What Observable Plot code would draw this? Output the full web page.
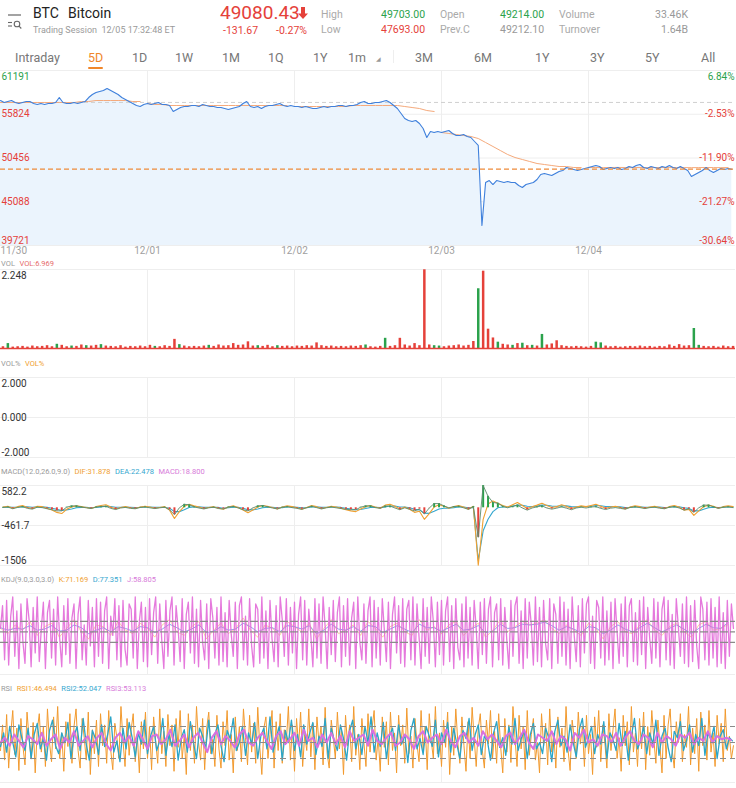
<!DOCTYPE html>
<html><head><meta charset="utf-8">
<script src="https://cdn.jsdelivr.net/npm/d3@7"></script>
<script src="https://cdn.jsdelivr.net/npm/@observablehq/plot@0.6"></script>
<style>
body{margin:0;background:#fff;font-family:Roboto,"Noto Sans",sans-serif;}
#root{position:relative;width:736px;height:788px;overflow:hidden;background:#fff;}
.a{position:absolute;white-space:nowrap;line-height:1;}
.lg{position:absolute;left:1px;white-space:nowrap;line-height:1;font-size:7.5px;display:flex;gap:4.5px;}
.tab{position:absolute;top:52px;font-size:12.5px;color:#777;line-height:1;white-space:nowrap;}
</style></head><body><div id="root">
<svg class="a" style="left:7px;top:13px" width="16" height="17" viewBox="0 0 16 17">
 <line x1="1" y1="2" x2="14" y2="2" stroke="#666" stroke-width="1.2"/>
 <line x1="1" y1="9.5" x2="5" y2="9.5" stroke="#666" stroke-width="1.1"/>
 <line x1="1" y1="13" x2="5" y2="13" stroke="#666" stroke-width="1.1"/>
 <circle cx="10" cy="11" r="2.8" fill="none" stroke="#666" stroke-width="1.1"/>
 <line x1="12" y1="13.2" x2="14.3" y2="15.5" stroke="#666" stroke-width="1.1"/>
</svg>
<div class="a" style="left:33px;top:6px;font-size:14px;color:#222">BTC</div>
<div class="a" style="left:68px;top:6px;font-size:14px;color:#222">Bitcoin</div>
<div class="a" style="left:33px;top:25.5px;font-size:9px;color:#9a9a9a">Trading Session&nbsp; 12/05 17:32:48 ET</div>
<div class="a" style="left:220px;top:3px;font-size:19px;color:#e5413a">49080.43</div>
<svg class="a" style="left:298px;top:7px" width="10" height="12" viewBox="0 0 10 12"><path d="M3 0h4v6.5h3l-5 5.5-5-5.5h3z" fill="#e5413a"/></svg>
<div class="a" style="left:223px;top:25.5px;font-size:10.5px;color:#e5413a">-131.67</div>
<div class="a" style="left:276px;top:25.5px;font-size:10.5px;color:#e5413a">-0.27%</div>
<div class="a" style="left:321px;top:10px;font-size:10.5px;color:#aaa">High</div>
<div class="a" style="left:321px;top:25px;font-size:10.5px;color:#aaa">Low</div>
<div class="a" style="left:381px;top:10px;font-size:10.5px;color:#2ba24c">49703.00</div>
<div class="a" style="left:381px;top:25px;font-size:10.5px;color:#e5413a">47693.00</div>
<div class="a" style="left:440px;top:10px;font-size:10.5px;color:#aaa">Open</div>
<div class="a" style="left:440px;top:25px;font-size:10.5px;color:#aaa">Prev.C</div>
<div class="a" style="left:500px;top:10px;font-size:10.5px;color:#2ba24c">49214.00</div>
<div class="a" style="left:500px;top:25px;font-size:10.5px;color:#999">49212.10</div>
<div class="a" style="left:559px;top:10px;font-size:10.5px;color:#aaa">Volume</div>
<div class="a" style="left:559px;top:25px;font-size:10.5px;color:#aaa">Turnover</div>
<div class="a" style="right:48px;top:10px;font-size:10.5px;color:#999">33.46K</div>
<div class="a" style="right:48px;top:25px;font-size:10.5px;color:#999">1.64B</div>
<div class="tab" style="left:15px">Intraday</div>
<div class="tab" style="left:88px;color:#f0862a">5D</div>
<div class="a" style="left:88px;top:66.5px;width:15px;height:2.5px;background:#f0862a;border-radius:1px"></div>
<div class="tab" style="left:132px">1D</div>
<div class="tab" style="left:175px">1W</div>
<div class="tab" style="left:222px">1M</div>
<div class="tab" style="left:268px">1Q</div>
<div class="tab" style="left:313px">1Y</div>
<div class="tab" style="left:348px">1m</div>
<div class="a" style="left:376px;top:56px;font-size:6px;color:#999;font-family:'DejaVu Sans'">◢</div>
<div class="a" style="left:393px;top:50px;width:1px;height:13px;background:#eee"></div>
<div class="tab" style="left:415px">3M</div>
<div class="tab" style="left:474px">6M</div>
<div class="tab" style="left:535px">1Y</div>
<div class="tab" style="left:590px">3Y</div>
<div class="tab" style="left:645px">5Y</div>
<div class="tab" style="left:701px">All</div>

<div class="lg" style="top:259.5px"><span style="color:#999">VOL</span><span style="color:#e66a6a">VOL:6.969</span></div>
<div class="lg" style="top:360px"><span style="color:#999">VOL%</span><span style="color:#f0a030">VOL%</span></div>
<div class="lg" style="top:467.5px"><span style="color:#999">MACD(12.0,26.0,9.0)</span><span style="color:#f0a030">DIF:31.878</span><span style="color:#35a7cf">DEA:22.478</span><span style="color:#d77ad9">MACD:18.800</span></div>
<div class="lg" style="top:576px"><span style="color:#999">KDJ(9.0,3.0,3.0)</span><span style="color:#f0a030">K:71.169</span><span style="color:#35a7cf">D:77.351</span><span style="color:#d77ad9">J:58.805</span></div>
<div class="lg" style="top:684.5px"><span style="color:#999">RSI</span><span style="color:#f0a030">RSI1:46.494</span><span style="color:#35a7cf">RSI2:52.047</span><span style="color:#d77ad9">RSI3:53.113</span></div>
</div>
<script>
// ---------- data ----------
const days = [0, 1, 2, 3, 4];
const dayLabels = ["11/30", "12/01", "12/02", "12/03", "12/04"];
const priceTicks = [61191, 55824, 50456, 45088, 39721];
const pctTicks = ["6.84%", "-2.53%", "-11.90%", "-21.27%", "-30.64%"];
const refPrice = 57273;
const lastPrice = 49080.43;
const price = [
 57510,57265,57387,57510,57265,57142,57265,57387,57387,57142,
 57019,57142,57019,57142,57142,57265,57878,57265,57142,57142,
 57265,57142,57265,57387,57878,58246,58491,58614,58737,58983,
 58737,58491,58246,57878,57633,57387,57142,56897,56774,57019,
 57142,57019,57142,57265,57019,57019,56897,56161,56406,56651,
 56774,56774,56897,56897,56774,57019,56897,56774,56774,56651,
 56651,56529,56406,56529,56651,56774,57142,57387,56774,56651,
 56774,56529,56774,56897,56897,57019,57142,56897,56774,56897,
 56774,56774,56651,56774,56651,56529,56529,56651,56774,56651,
 56774,56774,56897,56897,56774,56897,56897,57019,57265,57387,
 57142,57142,57265,57265,57387,57510,57265,56897,56529,55915,
 55302,55056,54934,55056,54688,54075,52971,53707,53584,53707,
 53584,53707,53830,53462,53216,53216,53339,53094,52971,52480,
 51990,42174,47450,47695,47204,47695,47573,47450,47573,47450,
 47450,47082,46836,47204,47327,47450,47818,48431,48554,48431,
 48308,48554,48799,48922,49290,49167,49045,48922,49045,49167,
 49290,49413,49535,49413,49045,49167,49290,49167,49290,49045,
 49167,49413,49290,49535,49658,49290,49167,49413,49290,49167,
 49413,49290,49535,49290,49167,49413,49167,48922,48186,48431,
 48676,48922,49290,48922,48676,48922,49167,49045,49167,49080];
const avgPrice = [
 57265,57265,57265,57265,57265,57265,57265,57265,57265,57265,
 57265,57387,57387,57510,57510,57510,57510,57510,57387,57387,
 57142,57019,57019,56897,56897,56897,56897,56897,56897,56897,
 56897,56897,56897,56897,56897,56897,56897,56897,56897,56897,
 56774,56774,56774,56774,56774,56774,56774,56774,56897,56897,
 56897,56897,56897,56897,56897,56774,56651,56529,56283,56161,
 53584,53462,53339,53216,53094,52848,52358,51867,51376,50885,
 50517,50272,50026,49781,49658,49535,49413,49413,49290,49290,
 49290,49290,49280,49290,49300,49290,49280,49290,49290,49280,
 49290,49300,49290,49280,49270,49280,49290,49280,49270,49280];
const vol = [
 0.05,0.14,0.04,0.05,0.06,0.04,0.07,0.05,0.06,0.08,
 0.05,0.12,0.09,0.05,0.07,0.06,0.10,0.08,0.07,0.09,
 0.11,0.07,0.06,0.05,0.08,0.04,0.06,0.05,0.07,0.05,
 0.09,0.06,0.05,0.08,0.06,0.26,0.11,0.07,0.05,0.06,
 0.05,0.07,0.09,0.06,0.10,0.07,0.08,0.14,0.09,0.10,
 0.19,0.07,0.08,0.06,0.09,0.05,0.08,0.06,0.07,0.05,
 0.07,0.06,0.08,0.07,0.16,0.08,0.06,0.07,0.05,0.06,
 0.05,0.07,0.06,0.08,0.10,0.05,0.04,0.06,0.29,0.06,
 0.08,0.29,0.10,0.07,0.14,0.08,2.24,0.10,0.08,0.07,
 0.05,0.07,0.08,0.10,0.07,0.09,0.20,1.70,2.20,0.55,
 0.30,0.18,0.12,0.10,0.09,0.14,0.15,0.08,0.09,0.07,
 0.40,0.10,0.13,0.22,0.08,0.06,0.05,0.06,0.05,0.04,
 0.06,0.18,0.16,0.07,0.05,0.06,0.04,0.05,0.06,0.05,
 0.07,0.05,0.06,0.04,0.06,0.05,0.10,0.06,0.11,0.07,
 0.08,0.57,0.09,0.06,0.05,0.06,0.04,0.07,0.05,0.06];
const volDir =
 "rgrrrrrrrr" + "rgrrgrrgrr" + "grrrrrrrrr" + "rgrrrrgrrr" + "rrgrrrrrrr" +
 "rrgrrrgrrr" + "rrrrrrrrrr" + "rrrrgrrrgr" + "rrrrrrrrgg" + "rrrrrrrgrr" +
 "rgrrgrgrgr" + "grrrrrrrrr" + "rggrrrrrrr" + "rrrrrrrrrr" + "rggrrrrrrr";
const volTop = 2.248;
const volPctTicks = [2, 0, -2];
const volPctLabels = ["2.000", "0.000", "-2.000"];
const macdTicks = [582.2, -461.7, -1506];
const macdLabels = ["582.2", "-461.7", "-1506"];
const dif = [
 20,40,-10,30,60,10,-20,40,30,-10,
 -60,-120,-150,-40,20,50,30,10,-20,30,
 60,80,20,-30,10,30,0,-20,20,40,
 20,-10,10,30,-60,-280,-100,40,90,50,
 20,-20,10,30,-10,-40,20,50,10,-60,
 -130,-60,20,60,40,10,-30,20,50,30,
 0,-40,10,60,30,-20,10,40,20,-10,
 -50,-80,-100,-30,30,60,20,-10,70,90,
 40,-30,20,-40,-120,-90,-300,-150,20,80,
 40,-10,30,60,20,-40,40,-1500,-300,100,
 180,120,60,20,80,140,60,-20,30,70,
 120,60,10,30,80,40,-20,20,50,30,
 60,90,40,-10,20,40,10,-30,20,50,
 30,-10,20,40,10,-20,30,60,20,-60,
 -40,-200,-80,30,70,40,-10,30,50,30];
const dea = [
 10,20,15,20,30,25,15,25,25,15,
 -10,-40,-70,-55,-30,0,10,10,0,10,
 25,40,35,15,15,20,15,5,10,20,
 20,10,10,15,-10,-100,-100,-50,10,25,
 25,10,10,15,10,-10,0,15,15,-10,
 -50,-55,-30,0,15,15,0,5,20,25,
 15,0,5,20,25,10,10,20,20,10,
 -10,-30,-50,-45,-20,10,15,5,25,45,
 45,20,20,0,-40,-55,-140,-145,-90,-30,
 -10,-10,0,20,20,0,10,-1370,-600,-300,
 -100,0,20,20,40,70,65,40,35,45,
 70,65,45,40,55,50,30,25,35,35,
 40,60,55,35,30,35,25,5,10,25,
 25,10,15,25,20,5,15,30,25,0,
 -15,-80,-80,-40,0,15,5,15,25,25];
const macd = [
 10,20,-25,10,30,-15,-35,15,5,-25,
 -50,-80,-80,15,50,50,20,0,-20,20,
 35,40,-15,-45,-5,10,-15,-25,10,20,
 0,-20,0,15,-50,-180,0,90,80,25,
 -5,-30,0,15,-20,-30,20,35,-5,-50,
 -80,-5,50,60,25,-5,-30,15,30,5,
 -15,-40,5,40,5,-30,0,20,0,-20,
 -40,-50,-50,15,50,50,5,-15,45,45,
 -5,-50,0,-40,-80,-35,-160,-5,110,110,
 50,0,30,40,0,-40,30,-770,580,300,
 140,120,40,0,40,70,-5,-60,-5,25,
 50,-5,-35,-10,25,-10,-50,-5,15,-5,
 20,30,-15,-45,-10,5,-15,-35,10,25,
 5,-20,5,15,-10,-25,15,30,-5,-60,
 -25,-120,0,70,70,25,-15,15,25,5];
const kdjDomain = [-72, 160];
const kdjRefs = [80, 50, 20];
const kdjK = [
 60,45,70,55,80,40,65,75,35,60, 85,50,30,70,65,40,80,55,45,75,
 60,35,70,85,50,40,65,80,30,55, 75,45,60,90,55,35,70,60,40,80,
 65,50,75,30,60,85,45,55,70,40, 80,60,35,65,75,50,40,85,55,65,
 45,70,80,40,60,75,35,55,85,50, 65,80,70,75,85,60,45,70,55,40,
 75,60,30,65,80,50,45,70,85,55, 40,65,75,50,35,70,80,55,60,71];
const kdjD = [
 62,55,60,58,68,55,58,68,52,55, 70,62,45,55,62,50,65,60,52,65,
 62,48,58,72,62,50,58,70,48,52, 65,55,58,75,65,50,60,62,50,68,
 65,58,68,45,55,72,58,55,65,52, 68,65,48,58,68,58,48,72,62,62,
 52,62,72,55,58,68,48,52,72,60, 62,72,70,72,78,68,55,65,58,48,
 65,62,45,55,70,58,50,62,75,62, 50,60,70,58,45,60,72,62,60,77];
const kdjJ = [
 60,125,-30,140,-45,95,150,-20,110,-55,130,20,
 -40,145,85,-50,120,-10,150,-35,60,135,-55,105,
 140,-25,115,-45,150,30,-50,125,-15,145,-40,90,
 130,-55,100,150,-30,70,-45,140,10,120,-50,145,
 -20,135,-40,110,150,-55,95,40,145,-30,125,-50,
 140,0,-45,130,115,-25,150,-55,80,135,-35,120,
 -50,145,-15,105,150,-40,130,25,-55,140,-20,110,
 150,-45,125,60,-35,145,-55,100,135,-10,150,-40,
 115,-50,140,20,-30,130,-55,145,90,-25,120,-45,
 150,-35,105,-50,140,45,-20,135,-55,125,150,-30,
 95,-45,145,10,-50,130,115,-40,150,-25,110,-55,
 140,30,-35,125,-50,150,85,-20,145,-45,120,-10,
 135,-55,100,150,-30,140,-45,115,40,-50,145,-25,
 130,-40,150,65,-55,120,-15,140,-35,105,150,-50,
 125,-20,145,-45,90,135,-55,150,20,-30,130,-40,
 110,150,-50,140,-25,120,-45,145,55,-35,135,-55,
 100,150,-10,125,-40,145,-50,115,140,-30,150,-45,
 130,35,-55,145,-20,120,-40,150,80,-50,135,-15,
 140,-45,110,150,-35,125,-55,145,5,-30,130,-50,
 150,-25,120,-45,140,60,-55,135,-15,145,-40,115,
 150,-50,105,130,-30,145,-45,120,25,-55,140,-20,
 125,150,-40,110,-55,145,-25,135,70,-45,150,-35,
 120,-50,140,15,-30,145,-55,130,100,-40,150,-20,
 135,-45,115,-55,150,40,-35,125,-50,145,-10,130,
 150,-40,95,-55,140,120,-25,150,-45,110,-30,135,
 -55,145,50,-40,130,-20,150,-50,125,145,-35,105,
 -45,140,-15,150,-55,120,30,-40,145,-25,135,-50,
 115,150,-30,140,-45,100,-55,145,65,-20,130,-40,
 150,-50,125,-35,140,10,-55,150,115,-30,135,-45,
 145,-25,120,-50,150,-40,105,-55,140,-20,130,60];
const rsiRefs = [70, 50, 30];
const rsi1 = [
 40,72,28,85,18,60,90,35,68,15,80,45,
 22,88,55,30,75,12,65,86,38,70,20,92,
 50,26,82,42,95,30,62,14,76,45,86,24,
 70,92,40,18,80,56,28,88,10,66,36,78,
 20,86,46,72,24,90,40,16,74,56,30,95,
 52,20,80,34,66,86,26,60,12,76,42,88,
 30,70,16,82,52,24,92,36,64,20,85,46,
 72,14,80,44,90,30,58,10,86,40,72,24,
 95,50,28,80,16,68,88,36,54,20,84,42,
 18,76,46,90,28,60,12,82,40,70,26,92,
 56,22,84,38,74,24,94,44,10,68,82,30,
 60,90,18,76,40,86,24,66,50,95,28,72,
 14,80,46,88,20,60,40,92,32,74,16,82,
 48,70,22,94,36,18,78,56,30,88,42,66,
 10,84,46,72,26,95,34,60,16,80,50,20,
 86,38,68,90,28,56,14,82,44,76,22,88,
 40,62,12,84,46,72,24,93,36,58,18,80,
 48,26,90,40,70,16,86,52,30,95,36,62,
 20,78,44,88,10,70,34,92,50,24,82,46,
 14,76,30,94,55,20,68,86,40,18,78,48,
 90,30,64,24,86,44,12,80,38,72,25,95,
 56,20,84,42,70,16,90,34,60,80,28,50,
 12,86,46,74,22,92,38,62,18,82,44,68,
 26,95,40,15,78,56,30,88,48,70,20,84,
 36,60,10,82,44,90,26,72,50,18,86,40,
 66,92,30,56,14,84,46,76,22,95,38,62,
 20,80,42,88,16,70,34,90,54,24,78,46,
 12,84,30,72,92,40,18,76,50,86,26,60,
 44,95,22,68,36,80,14,88,46,72,28,90,
 38,62,20,84,48,74,26,92,40,58,30,46];
const rsi2 = [
 45,62,38,70,50,32,72,55,40,68,30,60,
 74,42,55,28,65,78,46,36,62,50,75,30,
 58,70,40,80,48,28,65,55,35,72,45,60,
 82,38,52,26,68,42,75,56,32,62,48,78,
 36,58,70,40,52,80,34,60,45,72,28,55,
 66,38,76,50,30,68,58,42,78,36,60,72,
 46,26,65,55,80,40,50,70,34,62,48,75,
 30,58,68,42,82,38,55,70,28,65,50,78,
 40,60,32,72,48,62,75,35,58,45,80,30,
 68,52,40,72,55,28,65,78,42,60,35,70,
 50,82,38,62,45,75,30,58,68,40,72,48,
 60,25,65,80,42,55,35,70,58,45,78,32,
 62,50,75,38,68,48,30,65,55,80,40,60,
 72,35,58,52,28,62,76,44,56,34,70,48,
 80,40,54,66,30,60,74,42,50,36,68,56,
 26,64,78,46,58,38,72,50,32,66,80,44,
 56,70,36,60,48,76,30,62,54,40,74,46,
 64,28,58,80,42,52,70,36,62,48,78,34,
 58,68,44,26,64,56,76,40,52,72,38,60,
 46,80,34,62,54,70,30,58,66,42,56,52];
const rsi3 = [
 50,56,46,60,52,44,58,54,48,62,46,54,
 60,42,56,50,64,46,52,58,44,56,62,48,
 40,56,62,50,58,46,64,54,42,58,60,48,
 54,66,46,52,60,44,56,62,50,38,56,64,
 48,58,52,44,60,66,50,46,56,62,52,42,
 58,64,48,54,62,46,66,52,56,44,60,50,
 62,48,58,44,64,52,56,60,46,66,52,48,
 56,62,46,50,60,54,42,58,64,50,56,60,
 48,66,52,44,58,62,50,56,46,64,54,60,
 52,44,58,62,48,56,66,50,42,60,56,52,
 64,48,58,54,40,62,56,66,50,54,46,60,
 58,50,62,46,56,64,52,48,60,56,44,62,
 50,58,54,46,60,56,62,48,56,52,64,50,58,54,56,53];

// ---------- helpers ----------
const GREEN = "#2ba24c", RED = "#e5413a", GRID = "#eeeeee";
const root = document.getElementById("root");
const rows = (arr, off = 0) => arr.map((v, i) => ({t: (i + off) * 5 / arr.length, v, i}));
function panel(top, height, domain, marks, mt = 1, mb = 1) {
  const svg = Plot.plot({
    width: 736, height, marginTop: mt, marginBottom: mb, marginLeft: 0, marginRight: 1,
    x: {domain: [0, 5], axis: null},
    y: {domain, axis: null},
    color: {domain: ["r", "g"], range: [RED, GREEN]},
    style: {fontFamily: "Roboto, sans-serif", fontSize: "10px", background: "transparent", overflow: "visible"},
    marks
  });
  svg.style.position = "absolute"; svg.style.left = "0px"; svg.style.top = top + "px";
  root.appendChild(svg);
}
const vgrid = Plot.ruleX(days.slice(1), {stroke: GRID});
function leftLabels(vals, labels, fills) {
  const n = vals.length, out = [];
  vals.forEach((v, k) => {
    const anchor = k === 0 ? "top" : (k === n - 1 ? "bottom" : "middle");
    out.push(Plot.text([v], {y: d => d, text: () => labels[k], frameAnchor: "left", textAnchor: "start",
      lineAnchor: anchor, dx: 1, dy: anchor === "top" ? 2 : (anchor === "bottom" ? -1.5 : 0),
      fill: fills[k], fontSize: 10}));
  });
  return out;
}

// ---------- price ----------
const priceRows = rows(price);
const avgRows = rows(avgPrice).map(d => ({...d, day: Math.floor(d.i / 20)}));
panel(70, 186, [priceTicks[4], priceTicks[0]], [
  Plot.ruleY(priceTicks, {stroke: GRID}),
  vgrid,
  Plot.areaY(priceRows, {x: "t", y1: priceTicks[4], y2: "v", fill: "#ebf4fd"}),
  Plot.ruleY([refPrice], {stroke: "#cfcfcf", strokeDasharray: "4,3"}),
  Plot.line(avgRows, {x: "t", y: "v", z: "day", stroke: "#f5aa7c", strokeWidth: 1}),
  Plot.line(priceRows, {x: "t", y: "v", stroke: "#3f80dc", strokeWidth: 1.1}),
  Plot.ruleY([lastPrice], {stroke: "#ee8a3a", strokeDasharray: "5,3", strokeWidth: 1.2}),
  ...leftLabels(priceTicks, priceTicks.map(String), [GREEN, RED, RED, RED, RED]),
  ...priceTicks.map((v, k) => Plot.text([v], {y: d => d, text: () => pctTicks[k], frameAnchor: "right",
    textAnchor: "end", lineAnchor: k === 0 ? "top" : (k === 4 ? "bottom" : "middle"),
    dx: -1, dy: k === 0 ? 2 : (k === 4 ? -1.5 : 0), fill: k === 0 ? GREEN : RED, fontSize: 10})),
  Plot.text([days[0]], {x: d => d, text: () => dayLabels[0], frameAnchor: "bottom", lineAnchor: "top",
    textAnchor: "start", dy: 1.5, fill: "#a0a0a0", fontSize: 10}),
  Plot.text(days.slice(1), {x: d => d, text: (d) => dayLabels[d], frameAnchor: "bottom", lineAnchor: "top",
    dy: 1.5, fill: "#a0a0a0", fontSize: 10})
], 0, 11);

// ---------- volume ----------
const volRows = rows(vol, 0.5).map(d => ({...d, c: volDir[d.i]}));
panel(268, 81, [0, volTop], [
  Plot.ruleY([volTop], {stroke: GRID}),
  vgrid,
  Plot.ruleX(volRows, {x: "t", y1: 0, y2: "v", stroke: "c", strokeWidth: 2.5}),
  Plot.ruleY([0], {stroke: RED, strokeWidth: 1.6}),
  Plot.text([volTop], {y: d => d, text: () => "2.248", frameAnchor: "left", textAnchor: "start",
    lineAnchor: "top", dx: 1, dy: 2, fill: "#333", fontSize: 10})
]);

// ---------- VOL% ----------
panel(376, 82, [-2, 2], [
  Plot.ruleY(volPctTicks, {stroke: GRID}),
  vgrid,
  ...leftLabels(volPctTicks, volPctLabels, ["#333", "#333", "#333"])
]);

// ---------- MACD ----------
const macdRows = rows(macd, 0.5).map(d => ({...d, c: d.v >= 0 ? "g" : "r"}));
panel(484, 82, [macdTicks[2], macdTicks[0]], [
  Plot.ruleY(macdTicks, {stroke: GRID}),
  vgrid,
  Plot.line(rows(dea, 0.5), {x: "t", y: "v", stroke: "#35a7cf", strokeWidth: 1.1}),
  Plot.line(rows(dif, 0.5), {x: "t", y: "v", stroke: "#f0a030", strokeWidth: 1.1}),
  Plot.ruleX(macdRows, {x: "t", y1: 0, y2: "v", stroke: "c", strokeWidth: 2}),
  Plot.line(macdRows, {x: "t", y: "v", stroke: "#5d8c6c", strokeWidth: 1, strokeOpacity: 0.9}),
  ...leftLabels(macdTicks, macdLabels, ["#333", "#333", "#333"])
]);

// ---------- KDJ ----------
panel(592, 83, kdjDomain, [
  Plot.ruleY(kdjDomain, {stroke: GRID}),
  vgrid,
  Plot.line(rows(kdjK), {x: "t", y: "v", stroke: "#f0a030", strokeWidth: 1, strokeOpacity: 0.45}),
  Plot.line(rows(kdjD), {x: "t", y: "v", stroke: "#6f8fe0", strokeWidth: 1, strokeOpacity: 0.8}),
  Plot.line(rows(kdjJ), {x: "t", y: "v", stroke: "#e26ad8", strokeWidth: 1.3, strokeOpacity: 0.9}),
  Plot.ruleY(kdjRefs, {stroke: "#8a8a8a", strokeWidth: 1.2, strokeDasharray: "8,2"})
]);

// ---------- RSI ----------
panel(701, 82, [0, 100], [
  Plot.ruleY([0, 100], {stroke: GRID}),
  vgrid,
  Plot.line(rows(rsi1), {x: "t", y: "v", stroke: "#f29a2e", strokeWidth: 1}),
  Plot.line(rows(rsi2), {x: "t", y: "v", stroke: "#2aa5c8", strokeWidth: 1.3}),
  Plot.line(rows(rsi3), {x: "t", y: "v", stroke: "#d870e0", strokeWidth: 2}),
  Plot.ruleY(rsiRefs, {stroke: "#8a8a8a", strokeWidth: 1.1, strokeDasharray: "6,4"})
]);
</script>
</body></html>
